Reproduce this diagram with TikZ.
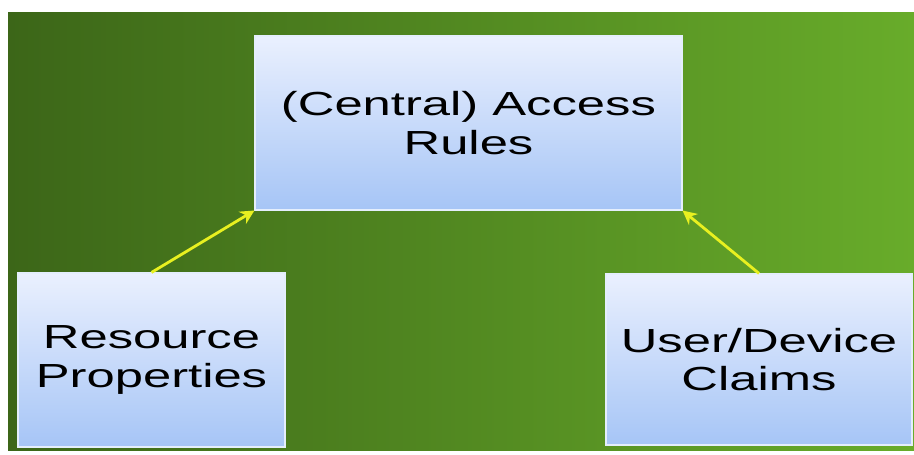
\documentclass[tikz,border=0pt]{standalone}
\definecolor{BgLeft}{RGB}{60,102,24}
\definecolor{BgRight}{RGB}{104,172,42}
\definecolor{BoxTop}{RGB}{234,240,254}
\definecolor{BoxBottom}{RGB}{166,197,246}
\definecolor{ArrowColor}{RGB}{232,240,32}
\usepackage{fontspec}
\setmainfont{Liberation Sans}[FakeStretch=1.52]
\usepackage{tikz}
\usetikzlibrary{arrows.meta, positioning}
\tikzstyle{rulebox} = [draw=white!70!BoxBottom, line width=0.6pt, top color=BoxTop, bottom color=BoxBottom, align=center, inner sep=0pt, font=\fontsize{19}{22}\selectfont, text=black]
\tikzstyle{arrow} = [line width=1.6pt, ArrowColor, -{Stealth[length=8pt, width=8pt]}]

\begin{document}
\begin{tikzpicture}
                
                \useasboundingbox (0,0) rectangle (18.28,9.10);
                \shade[left color=BgLeft, right color=BgRight] (0.16,0.08) rectangle (18.28,8.84);
                
                \node[rulebox, minimum width=8.54cm, minimum height=3.48cm] (rules) at (9.37,6.64) {(Central) Access\\Rules};
                \node[rulebox, minimum width=5.34cm, minimum height=3.48cm] (resource) at (3.03,1.90) {Resource\\Properties};
                \node[rulebox, minimum width=6.12cm, minimum height=3.42cm] (claims) at (15.18,1.91) {User/Device\\Claims};
                
                \draw[arrow] (resource.north) -- (rules.south west);
                \draw[arrow] (claims.north) -- (rules.south east);
            \end{tikzpicture}
\end{document}
